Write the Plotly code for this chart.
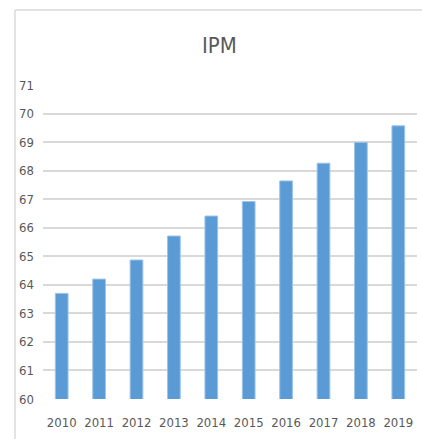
import plotly.graph_objects as go

years = ["2010", "2011", "2012", "2013", "2014", "2015", "2016", "2017", "2018", "2019"]
ipm = [63.70, 64.20, 64.87, 65.71, 66.41, 66.92, 67.64, 68.26, 68.99, 69.57]
y_ticks = list(range(60, 72))

fig = go.Figure()
fig.add_trace(go.Bar(
    x=years, y=ipm,
    marker=dict(color="#5b9bd5", line=dict(color="#9dc3e6", width=1)),
))

font_family = "Liberation Sans Narrow, DejaVu Sans Condensed, Arial Narrow, sans-serif"

fig.update_layout(
    width=422, height=439,
    margin=dict(l=43, r=5, t=85, b=40),
    paper_bgcolor="white", plot_bgcolor="white",
    bargap=0.66,
    showlegend=False,
    title=dict(text="IPM", x=0.52, xanchor="center", y=1 - 45 / 439, yanchor="middle",
               font=dict(family=font_family, size=22, color="#595959")),
    xaxis=dict(type="category", showgrid=False, showline=False, ticks="", ticklabelstandoff=14,
               tickfont=dict(family=font_family, size=13, color="#595959")),
    yaxis=dict(range=[60, 71], tickvals=y_ticks, showgrid=True, gridcolor="#d9d9d9", gridwidth=1.5,
               zeroline=False, showline=False, ticks="", ticklabelstandoff=8,
               tickfont=dict(family=font_family, size=13, color="#595959")),
    shapes=[
        dict(type="line", xref="paper", yref="paper", x0=-0.0749, x1=1.02, y0=1.2389, y1=1.2389,
             line=dict(color="#d9d9d9", width=1.5)),
        dict(type="line", xref="paper", yref="paper", x0=-0.0749, x1=-0.0749, y0=1.2389, y1=-0.13,
             line=dict(color="#d9d9d9", width=1.5)),
    ],
)

fig.write_html("out.html")
